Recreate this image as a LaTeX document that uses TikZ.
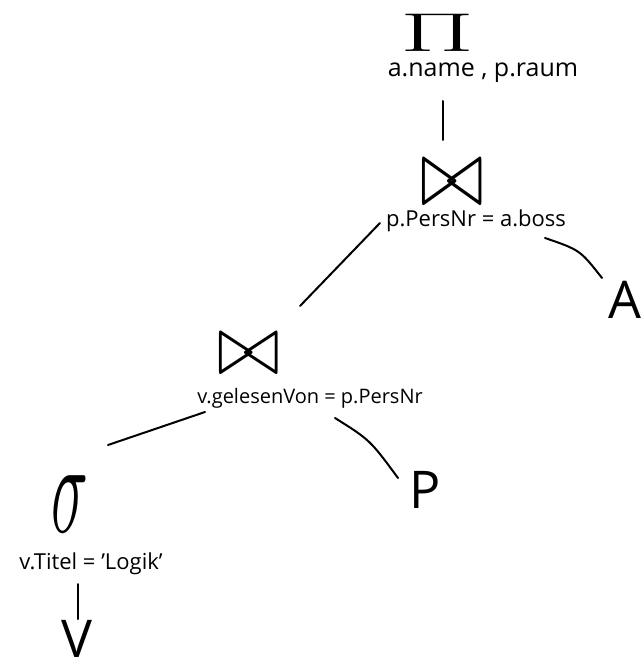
\documentclass[tikz,border=0pt]{standalone}
\usetikzlibrary{calc}
\usepackage{fontspec}
\setmainfont{Open Sans}
\begin{document}
\begin{tikzpicture}[x=1pt,y=-1pt,
  lbl/.style={inner sep=0pt,font=\fontsize{22}{24}\selectfont},
  big/.style={inner sep=0pt,font=\fontsize{52}{54}\selectfont},
  opsym/.style={inner sep=0pt,font=\fontsize{40}{40}\selectfont},
  edge/.style={line width=2pt,line cap=round}]
\useasboundingbox (0,0) rectangle (643,668);
% projection
\node[opsym] (pi) at (438,33) {\scalebox{4.3}[2.2]{$\Pi$}};
\node[lbl,font=\fontsize{25}{27}\selectfont] (pilbl) at (483,73) {a.name , p.raum};
% join 1
\node[opsym] (j1) at (452,183) {\scalebox{3.15}[3.9]{$\bowtie$}};
\node[lbl] (j1lbl) at (476,221) {p.PersNr = a.boss};
% A
\node[big] (A) at (625,300) {A};
% join 2
\node[opsym] (j2) at (249,354) {\scalebox{3.08}[3.5]{$\bowtie$}};
\node[lbl,font=\fontsize{20}{22}\selectfont] (j2lbl) at (310,398) {v.gelesenVon = p.PersNr};
% P
\node[big] (P) at (425,490) {P};
% selection
\node[opsym] (sg) at (70,504) {\scalebox{2.5}[5.3]{$\sigma$}};
\node[lbl] (sglbl) at (91,564) {v.Titel = 'Logik'};
% V
\node[big] (V) at (77,639) {V};
% connectors
\draw[edge] ($(pilbl.center)+(-40,28)$) -- ($(j1.center)+(-9,-43)$);
\draw[edge] ($(j1lbl.center)+(69,17)$) .. controls ($(A.center)+(-45,-50)$) .. ($(A.center)+(-23,-22)$);
\draw[edge] ($(j1lbl.center)+(-96,2)$) -- ($(j2.center)+(51,-48)$);
\draw[edge] ($(j2lbl.center)+(-105,14)$) -- ($(j2lbl.center)+(-202,47)$);
\draw[edge] ($(j2lbl.center)+(25,20)$) .. controls ($(P.center)+(-55,-50)$) .. ($(P.center)+(-27,-12)$);
\draw[edge] ($(V.center)+(1,-55)$) -- ($(V.center)+(1,-20)$);
\end{tikzpicture}
\end{document}
